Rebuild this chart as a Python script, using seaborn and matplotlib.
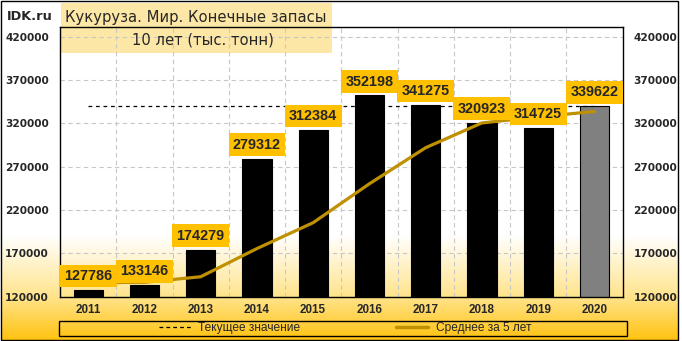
import numpy as np
import pandas as pd
import matplotlib
matplotlib.use("Agg")
import matplotlib.pyplot as plt
import seaborn as sns
from matplotlib.patches import Rectangle
from matplotlib.lines import Line2D

# ---------------- data ----------------
years = ["2011", "2012", "2013", "2014", "2015", "2016", "2017", "2018", "2019", "2020"]
stocks = [127786, 133146, 174279, 279312, 312384, 352198, 341275, 320923, 314725, 339622]
avg5 = [136200, 136600, 143000, 175500, 205400, 250300, 291900, 320500, 327500, 333700]
current_value = 339622
yticks = [120000, 170000, 220000, 270000, 320000, 370000, 420000]
bar_colors = ["#000000"] * 9 + ["#808080"]
title_line1 = "Кукуруза. Мир. Конечные запасы"
title_line2 = "10 лет (тыс. тонн)"
brand = "IDK.ru"
legend_labels = ["Текущее значение", "Среднее за 5 лет"]

sns.set_style("white")
plt.rcParams["font.family"] = ["DejaVu Sans"]

W, H = 682, 341
fig = plt.figure(figsize=(W / 100, H / 100), dpi=100)

# ---------------- background ----------------
bg = fig.add_axes([0, 0, 1, 1], zorder=-10)
bg.set_xlim(0, W)
bg.set_ylim(H, 0)
bg.axis("off")
rows = np.arange(H)
stops = [0, 235, 297, 341]
r = np.interp(rows, stops, [255, 255, 255, 255])
g = np.interp(rows, stops, [255, 255, 228, 194])
b = np.interp(rows, stops, [255, 255, 140, 14])
img = np.stack([r, g, b], axis=-1)[:, None, :] / 255.0
bg.imshow(img, extent=(1, 678, 340, 1), aspect="auto", interpolation="bilinear", zorder=0)
bg.add_patch(Rectangle((61, 3), 271, 50, facecolor="#FDE7A6", edgecolor="none", zorder=1))
bg.add_patch(Rectangle((1, 1), 677, 339, fill=False, edgecolor="black", lw=1, zorder=2))
bg.add_patch(Rectangle((58.7, 320.7), 568.3, 15, fill=False, edgecolor="black", lw=1, zorder=2))

# ---------------- main axes ----------------
ax = fig.add_axes([60 / W, 1 - 296.7 / H, (622.5 - 60) / W, (296.7 - 27) / H])
ax.set_facecolor("none")

df = pd.DataFrame({"year": years, "stock": stocks, "avg": avg5})
sns.barplot(data=df, x="year", y="stock", hue="year", palette=bar_colors, width=0.52,
            edgecolor="black", linewidth=0.8, legend=False, ax=ax, zorder=2)

df["current"] = current_value
sns.lineplot(data=df, x="year", y="current", color="black", lw=0.9,
             linestyle=(0, (3, 3)), ax=ax, zorder=3, sort=False)
sns.lineplot(data=df, x="year", y="avg", color="#BF9000", lw=2.3, ax=ax, zorder=4, sort=False)

for i, v in enumerate(stocks):
    ax.annotate(f"{v}", xy=(i, v), xytext=(0, 10), textcoords="offset points",
                ha="center", va="center", fontsize=10.4, fontweight="bold",
                family="Liberation Sans", zorder=6, annotation_clip=False,
                bbox=dict(boxstyle="square,pad=0.3", fc="#FFC000", ec="none"))

ax.set_xlim(-0.5, len(years) - 0.5)
ax.set_ylim(120000, 431200)
ax.set_yticks(yticks)
ax.set_yticklabels([str(t) for t in yticks])
ax.set_xticks(np.arange(0.5, len(years) - 1, 1), minor=True)
ax.set_axisbelow(True)
ax.yaxis.grid(True, which="major", linestyle=(0, (4, 3)), color="#C8C8C8", lw=0.8)
ax.xaxis.grid(True, which="minor", linestyle=(0, (4, 3)), color="#C8C8C8", lw=0.8)
ax.xaxis.grid(False, which="major")
for s in ax.spines.values():
    s.set_visible(True)
    s.set_color("black")
    s.set_linewidth(1)

ax.tick_params(axis="y", which="both", length=0, labelleft=True, labelright=True, pad=8)
ax.tick_params(axis="x", which="both", length=0, pad=5.5)
for lab in ax.get_yticklabels():
    lab.set_fontfamily("DejaVu Sans")
    lab.set_fontweight("bold")
    lab.set_fontsize(7.6)
for lab in ax.get_xticklabels():
    lab.set_fontfamily("Liberation Sans")
    lab.set_fontweight("bold")
    lab.set_fontsize(8.4)
ax.set_xlabel("")
ax.set_ylabel("")

# ---------------- legend ----------------
handles = [Line2D([], [], color="black", lw=0.9, linestyle=(0, (3, 2.5))),
           Line2D([], [], color="#BF9000", lw=2.5)]
fig.legend(handles, legend_labels, loc="center", bbox_to_anchor=(345 / W, 1 - 328 / H),
           ncol=2, frameon=False, prop={"family": "Liberation Sans", "size": 8.6},
           handlelength=2.7, handletextpad=0.6, columnspacing=8.0)

# ---------------- texts ----------------
fig.text(7 / W, 1 - 17 / H, brand, fontsize=9.3, fontweight="bold", va="center", ha="left")
fig.text(65 / W, 1 - 17.5 / H, title_line1, fontsize=10.6, va="center", ha="left")
fig.text(203 / W, 1 - 40 / H, title_line2, fontsize=10.6, va="center", ha="center")

fig.savefig("out.png", dpi=100)
